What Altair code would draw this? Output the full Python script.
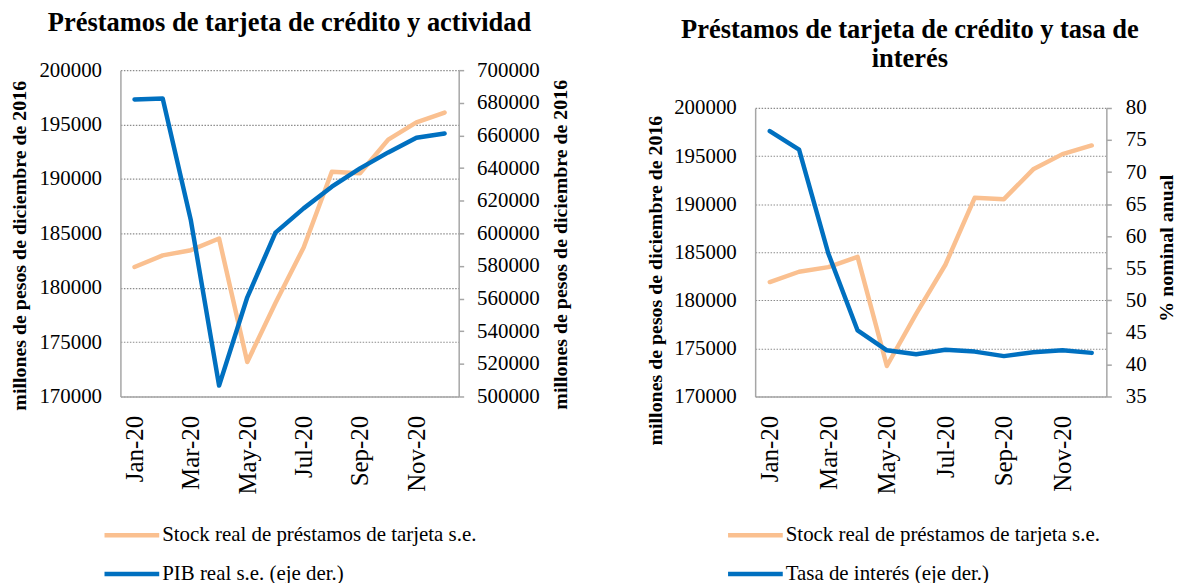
import altair as alt
import pandas as pd

# ---------------- data ----------------
meses = ["Jan-20", "Feb-20", "Mar-20", "Apr-20", "May-20", "Jun-20",
         "Jul-20", "Aug-20", "Sep-20", "Oct-20", "Nov-20", "Dec-20"]
etiquetas_x = ["Jan-20", "Mar-20", "May-20", "Jul-20", "Sep-20", "Nov-20"]

stock = [181900, 182970, 183450, 184520, 173170, 178590,
         183700, 190660, 190520, 193620, 195200, 196100]
pib = [682000, 682600, 607800, 506700, 560800, 600400,
       615300, 628600, 639800, 649600, 658600, 661200]
tasa = [76.4, 73.5, 57.3, 45.3, 42.2, 41.6, 42.3, 42.0, 41.3, 41.9, 42.2, 41.8]

ticks_stock = [170000, 175000, 180000, 185000, 190000, 195000, 200000]
ticks_pib = [500000, 520000, 540000, 560000, 580000, 600000,
             620000, 640000, 660000, 680000, 700000]
ticks_tasa = [35, 40, 45, 50, 55, 60, 65, 70, 75, 80]

S_STOCK = "Stock real de préstamos de tarjeta s.e."
S_PIB = "PIB real s.e. (eje der.)"
S_TASA = "Tasa de interés (eje der.)"
TIT_PESOS = "millones de pesos de diciembre de 2016"
TIT_PCT = "% nominal anual"

FONT = "Liberation Serif"
ORANGE = "#FAC090"
BLUE = "#0070C0"
GRAY = "#A6A6A6"
GRID = "#8C8C8C"

df_izq = pd.DataFrame({"mes": meses * 2,
                       "serie": [S_STOCK] * 12 + [S_PIB] * 12,
                       "valor": stock + pib})
df_der = pd.DataFrame({"mes": meses * 2,
                       "serie": [S_STOCK] * 12 + [S_TASA] * 12,
                       "valor": stock + tasa})

H = 328  # both panels share the same view height; the right plot starts lower


def panel(df, s2, y2_dom, y2_ticks, y2_title, title, w, top, t_offset, t_dx,
          lt_x, lt_y, rt_x, rt_y, r_pad, lg_x, lg_y):
    x = alt.X("mes:N", sort=meses,
              scale=alt.Scale(type="point", padding=0.5),
              axis=alt.Axis(values=etiquetas_x, labelAngle=270, ticks=False,
                            tickSize=0, labelPadding=19, labelFontSize=25,
                            title=None, domainColor=GRAY, domainWidth=1.5,
                            grid=False))
    color = alt.Color(
        "serie:N",
        scale=alt.Scale(domain=[S_STOCK, s2], range=[ORANGE, BLUE]),
        legend=alt.Legend(title=None, orient="none", legendX=lg_x,
                          legendY=lg_y, direction="vertical",
                          symbolType="M-5,0H5", symbolSize=121,
                          symbolStrokeWidth=4.5, labelFontSize=21,
                          labelFont=FONT, labelColor="black", labelOffset=20,
                          rowPadding=17, padding=0, labelLimit=600))
    base = alt.Chart(df).encode(x=x, color=color)
    l1 = base.transform_filter(alt.datum.serie == S_STOCK).mark_line(
        strokeWidth=4.5, strokeCap="round", strokeJoin="round").encode(
        y=alt.Y("valor:Q",
                scale=alt.Scale(domain=[170000, 200000], nice=False,
                                zero=False, range=[H, top]),
                axis=alt.Axis(values=ticks_stock, format="d", orient="left",
                              grid=True, gridDash=[1.5, 1.5], gridColor=GRID,
                              gridWidth=1.2, ticks=False, tickSize=0,
                              labelPadding=19, labelFontSize=21,
                              domainColor=GRAY, domainWidth=1.5,
                              title=TIT_PESOS, titleFontSize=20,
                              titleFontWeight="bold", titleAngle=270,
                              titleBaseline="middle", titleAlign="center",
                              titleX=lt_x, titleY=lt_y)))
    l2 = base.transform_filter(alt.datum.serie == s2).mark_line(
        strokeWidth=4.5, strokeCap="round", strokeJoin="round").encode(
        y=alt.Y("valor:Q",
                scale=alt.Scale(domain=y2_dom, nice=False, zero=False,
                                range=[H, top]),
                axis=alt.Axis(values=y2_ticks, format="d", orient="right",
                              grid=False, ticks=True, tickSize=5,
                              tickColor=GRAY, tickWidth=1.5,
                              labelPadding=r_pad, labelFontSize=21,
                              domainColor=GRAY, domainWidth=1.5,
                              title=y2_title, titleFontSize=20,
                              titleFontWeight="bold", titleAngle=270,
                              titleBaseline="middle", titleAlign="center",
                              titleX=rt_x, titleY=rt_y)))
    return alt.layer(l1, l2).resolve_scale(y="independent").properties(
        width=w, height=H,
        title=alt.TitleParams(text=title, font=FONT, fontSize=26.6,
                              fontWeight="bold", color="black",
                              offset=t_offset, anchor="middle", dx=t_dx,
                              lineHeight=29))


izq = panel(df_izq, S_PIB, [500000, 700000], ticks_pib, TIT_PESOS,
            "Préstamos de tarjeta de crédito y actividad",
            340, 0, 23, 0, -101, 176, 102, 175, 13, 1, 457)
der = panel(df_der, S_TASA, [35, 80], ticks_tasa, TIT_PCT,
            ["Préstamos de tarjeta de crédito y tasa de", "interés"],
            353, 38, -2, -21, -100, 211, 60, 178.5, 14, -10.25, 457)

chart = alt.hconcat(izq, der, spacing=76).resolve_scale(
    color="independent").configure(
    padding={"left": 2, "top": 0, "right": 0, "bottom": 0}
).configure_view(stroke=None).configure_axis(
    labelFont=FONT, titleFont=FONT, labelColor="black", titleColor="black"
)

chart.save("out.html", embed_options={"renderer": "svg", "actions": False})
